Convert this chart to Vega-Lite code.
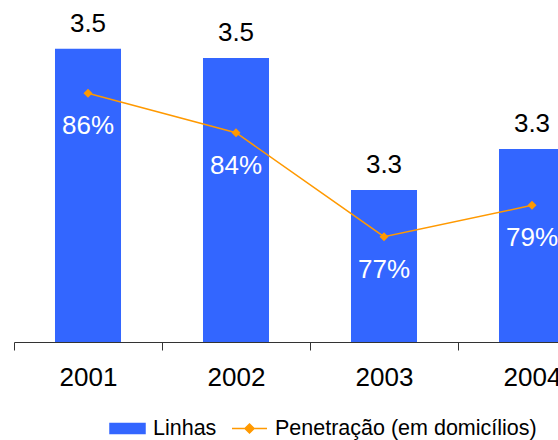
{
  "$schema": "https://vega.github.io/schema/vega-lite/v6.json",
  "width": 544,
  "height": 342,
  "autosize": {"type": "none"},
  "padding": {"left": 14, "top": 0, "right": 0, "bottom": 98},
  "background": "white",
  "config": {"view": {"stroke": null}, "font": "Liberation Sans"},
  "datasets": {
    "bars": [
      {"year": "2001", "lines": 3.54},
      {"year": "2002", "lines": 3.522},
      {"year": "2003", "lines": 3.26},
      {"year": "2004", "lines": 3.341}
    ],
    "pen": [
      {"year": "2001", "pct": 0.8616},
      {"year": "2002", "pct": 0.837},
      {"year": "2003", "pct": 0.772},
      {"year": "2004", "pct": 0.7916}
    ]
  },
  "encoding": {
    "x": {
      "field": "year",
      "type": "ordinal",
      "scale": {"range": [0, 592], "paddingInner": 0, "paddingOuter": 0},
      "axis": {
        "title": null,
        "labelFontSize": 26,
        "labelColor": "black",
        "labelPadding": 14,
        "labelAngle": 0,
        "tickSize": 8,
        "tickColor": "#333333",
        "domainColor": "#333333",
        "tickBand": "extent",
        "grid": false,
        "zindex": 1
      }
    }
  },
  "layer": [
    {
      "data": {"name": "bars"},
      "encoding": {
        "y": {"field": "lines", "type": "quantitative", "scale": {"domain": [2.958, 3.637], "zero": false, "nice": false, "clamp": true}, "axis": null}
      },
      "layer": [
        {
          "mark": {"type": "bar", "width": {"band": 0.446}},
          "encoding": {
            "y2": {"datum": 2.958},
            "color": {
              "datum": "Linhas",
              "type": "nominal",
              "scale": {"domain": ["Linhas", "Penetração (em domicílios)"], "range": ["#3366FF", "#FF9900"]},
              "legend": {
                "orient": "none",
                "legendX": 95,
                "legendY": 410,
                "direction": "horizontal",
                "title": null,
                "labelFontSize": 21.5,
                "labelColor": "black",
                "labelLimit": 400,
                "symbolSize": 1225,
                "labelOffset": 7,
                "columnPadding": 12,
                "padding": 0,
                "encode": {
                  "symbols": {
                    "update": {
                      "shape": {"signal": "datum.value === 'Linhas' ? 'M-1,-0.286H1V0.286H-1Z' : 'M-1,0H1M-0.26,0L0,-0.26L0.26,0L0,0.26Z'"},
                      "fill": {"signal": "datum.value === 'Linhas' ? '#3366FF' : '#FF9900'"},
                      "stroke": {"signal": "datum.value === 'Linhas' ? '#3366FF' : '#FF9900'"},
                      "strokeWidth": {"value": 1.5},
                      "opacity": {"value": 1}
                    }
                  }
                }
              }
            }
          }
        },
        {
          "mark": {"type": "text", "baseline": "alphabetic", "dy": -17, "fontSize": 26, "color": "black"},
          "encoding": {"text": {"field": "lines", "type": "quantitative", "format": ".1f"}}
        }
      ]
    },
    {
      "data": {"name": "pen"},
      "encoding": {
        "y": {"field": "pct", "type": "quantitative", "scale": {"domain": [0.7062, 0.9199], "zero": false, "nice": false}, "axis": null}
      },
      "layer": [
        {
          "mark": {"type": "line", "strokeWidth": 1.5, "point": {"shape": "diamond", "size": 81, "filled": true}},
          "encoding": {
            "color": {"datum": "Penetração (em domicílios)", "type": "nominal"}
          }
        },
        {
          "mark": {"type": "text", "baseline": "alphabetic", "dy": 41, "fontSize": 26, "color": "white"},
          "encoding": {"text": {"field": "pct", "type": "quantitative", "format": ".0%"}}
        }
      ]
    }
  ],
  "resolve": {"scale": {"y": "independent"}}
}
